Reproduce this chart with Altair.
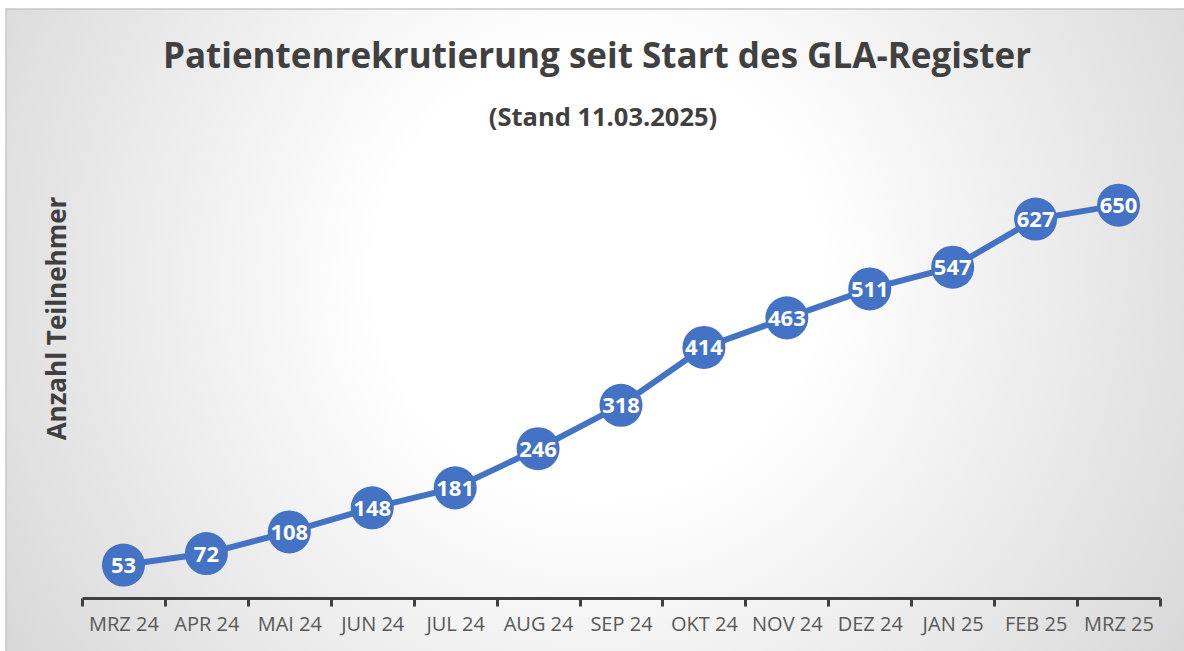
import altair as alt
import pandas as pd

months = ["MRZ 24", "APR 24", "MAI 24", "JUN 24", "JUL 24", "AUG 24", "SEP 24",
          "OKT 24", "NOV 24", "DEZ 24", "JAN 25", "FEB 25", "MRZ 25"]
participants = [53, 72, 108, 148, 181, 246, 318, 414, 463, 511, 547, 627, 650]

title_text = "Patientenrekrutierung seit Start des GLA-Register"
subtitle_text = "(Stand 11.03.2025)"

df = pd.DataFrame({"Monat": months, "Teilnehmer": participants})

FONT = "Open Sans"
BLUE = "#4472C4"
DARK = "#404040"

W, H = 1078, 422
PAD_L, PAD_T = 82, 175

x_enc = alt.X("Monat:N", sort=months,
              scale=alt.Scale(paddingInner=0, paddingOuter=0),
              axis=alt.Axis(title=None, labelAngle=0, tickBand="extent",
                            labelFont=FONT, labelFontSize=20, labelColor="#595959",
                            labelPadding=8, domainColor=DARK, domainWidth=3,
                            tickColor=DARK, tickWidth=3, tickSize=8, grid=False,
                            offset=1, zindex=1))
y_enc = alt.Y("Teilnehmer:Q", scale=alt.Scale(domain=[0, 700], nice=False),
              axis=alt.Axis(title="Anzahl Teilnehmer", labels=False, ticks=False,
                            domain=False, grid=False, titleFont=FONT, titleFontSize=26,
                            titleFontWeight="bold", titleColor=DARK,
                            titlePadding=12, titleY=143, titleAlign="center", zindex=1))

one = pd.DataFrame({"title": [title_text], "subtitle": [subtitle_text]})
background = alt.Chart(one).mark_rect(
    fill=alt.Gradient(gradient="radial",
                      stops=[alt.GradientStop(color="#ffffff", offset=0),
                             alt.GradientStop(color="#ffffff", offset=0.25),
                             alt.GradientStop(color="#c9c9c9", offset=1)],
                      x1=0.5, y1=0.45, r1=0, x2=0.5, y2=0.45, r2=0.75),
    stroke="#c8c8c8", strokeWidth=1.5
).encode(x=alt.value(6 - PAD_L), x2=alt.value(1184 - PAD_L + 5),
         y=alt.value(9 - PAD_T), y2=alt.value(651 - PAD_T + 5))

title = alt.Chart(one).mark_text(font=FONT, fontSize=35, fontWeight="bold", color=DARK,
                                 align="center", baseline="middle").encode(
    x=alt.value(597 - PAD_L), y=alt.value(57 - PAD_T), text="title:N")
subtitle = alt.Chart(one).mark_text(font=FONT, fontSize=25.5, fontWeight="bold", color=DARK,
                                    align="center", baseline="middle").encode(
    x=alt.value(603 - PAD_L), y=alt.value(118 - PAD_T), text="subtitle:N")

base = alt.Chart(df).encode(x=x_enc, y=y_enc)
line = base.mark_line(color=BLUE, strokeWidth=6)
dots = base.mark_circle(size=1850, color=BLUE, opacity=1)
labels = base.mark_text(color="white", font=FONT, fontWeight="bold",
                        fontSize=22, baseline="middle", dy=1).encode(text="Teilnehmer:Q")

chart = alt.layer(background, title, subtitle, line, dots, labels).properties(
    width=W, height=H,
    autosize="none",
    padding={"left": PAD_L, "top": PAD_T, "right": 1184 - PAD_L - W, "bottom": 651 - PAD_T - H},
).configure_view(stroke=None).configure(background="white")

chart.save("out.html", embed_options={"renderer": "svg", "actions": False})
